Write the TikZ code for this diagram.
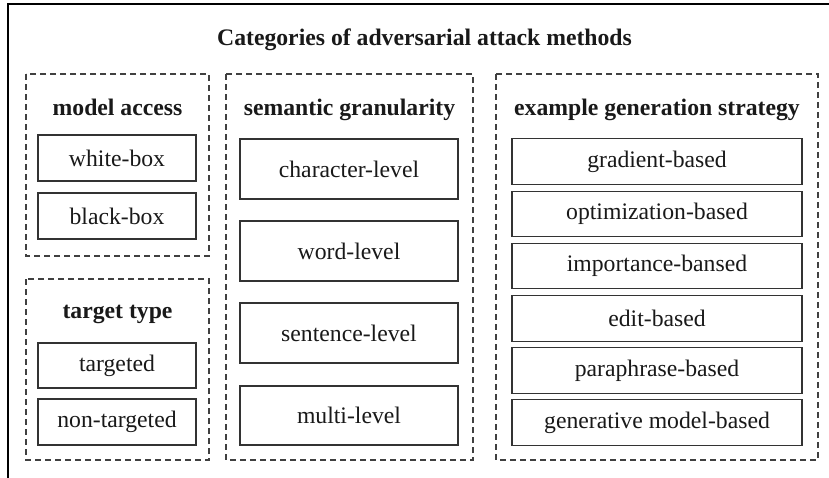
\documentclass[tikz,border=0pt]{standalone}
\usepackage{fontspec}
\setmainfont{Liberation Serif}
\begin{document}
\begin{tikzpicture}[x=1pt,y=-1pt,
  every node/.style={font=\fontsize{23.7}{28}\selectfont, inner sep=0pt, text=black!90},
  group/.style={draw=black!75, line width=1.2pt, dash pattern=on 6pt off 4pt},
  item/.style={draw=black!80, line width=1.3pt, anchor=center},
  head/.style={font=\fontsize{23.7}{28}\selectfont\bfseries, anchor=base},
  ttl/.style={font=\fontsize{23.7}{28}\selectfont\bfseries, anchor=base}]
\clip (0,0) rectangle (829,477);
\fill[white] (0,0) rectangle (829,477);
% outer frame (only left and top edges are visible)
\draw[line width=2.2pt, black] (8,500) -- (8,4) -- (850,4);
\node[ttl] (title) at (424.5,45) {Categories of adversarial attack methods};
% groups
\draw[group] (26,74) rectangle (209,256);
\draw[group] (26,279) rectangle (209,460);
\draw[group] (226,74) rectangle (473,460);
\draw[group] (496,74) rectangle (818,460);
% headers
\node[head] (hma) at (117.5,115) {model access};
\node[head] (htt) at (117.5,318) {target type};
\node[head] (hsg) at (349.5,115) {semantic granularity};
\node[head] (heg) at (657,115) {example generation strategy};
% model access
\node[item, minimum width=158pt, minimum height=46pt] (wb) at (117,158) {white-box};
\node[item, minimum width=158pt, minimum height=46pt] (bb) at (117,216) {black-box};
% target type
\node[item, minimum width=158pt, minimum height=45pt] (tg) at (117,365.5) {targeted};
\node[item, minimum width=158pt, minimum height=46pt] (nt) at (117,422) {non-targeted};
% semantic granularity
\node[item, minimum width=218pt, minimum height=60pt] (cl) at (349,169) {character-level};
\node[item, minimum width=218pt, minimum height=60pt] (wl) at (349,251) {word-level};
\node[item, minimum width=218pt, minimum height=60pt] (sl) at (349,333) {sentence-level};
\node[item, minimum width=218pt, minimum height=59pt] (ml) at (349,415.5) {multi-level};
% example generation strategy
\node[item, minimum width=290pt, minimum height=45.5pt] (gb) at (657,161.5) {gradient-based};
\node[item, minimum width=290pt, minimum height=45.5pt] (ob) at (657,214) {optimization-based};
\node[item, minimum width=290pt, minimum height=45.5pt] (ib) at (657,266) {importance-bansed};
\node[item, minimum width=290pt, minimum height=45.5pt] (eb) at (657,318.5) {edit-based};
\node[item, minimum width=290pt, minimum height=45.5pt] (pb) at (657,370.5) {paraphrase-based};
\node[item, minimum width=290pt, minimum height=45.5pt] (gm) at (657,422.5) {generative model-based};
\end{tikzpicture}
\end{document}
